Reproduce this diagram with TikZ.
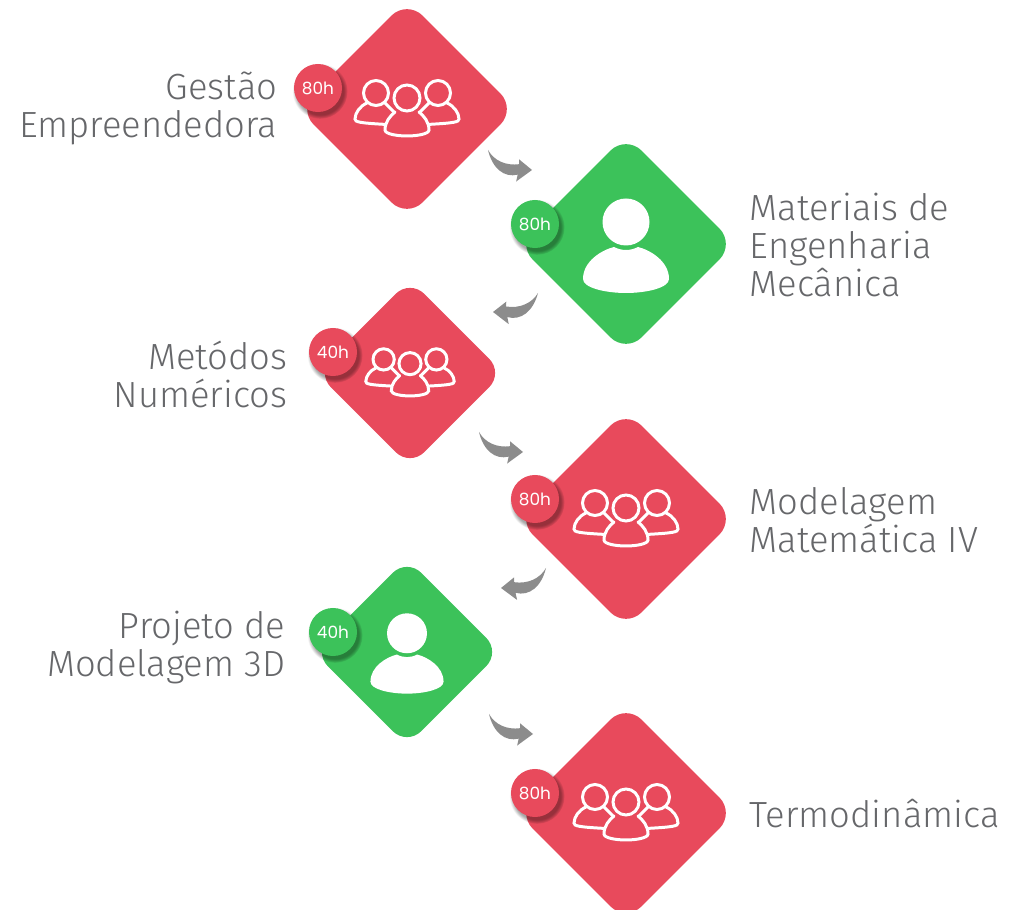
\documentclass[tikz,border=0pt]{standalone}
\usepackage{fontspec}
\setmainfont{Fira Sans Light}
\newfontfamily\hoursfont{Poppins}
\usetikzlibrary{calc,shadows}
\definecolor{stepred}{HTML}{E84A5C}
\definecolor{stepgreen}{HTML}{3CC25A}
\definecolor{labelgray}{HTML}{66676A}
\definecolor{flowgray}{HTML}{8C8C8C}
\tikzset{
    bigbox/.style={shape=rectangle,rotate=45,rounded corners=0.22cm,minimum size=1.54cm,inner sep=0pt},
    smallbox/.style={shape=rectangle,rotate=45,rounded corners=0.2cm,minimum size=1.32cm,inner sep=0pt},
    hours/.style={circle,minimum size=0.48cm,inner sep=0pt,text=white,font=\hoursfont\fontsize{4.8}{5}\selectfont,
        circular drop shadow={shadow xshift=0.5pt,shadow yshift=-0.8pt,shadow scale=1.15,opacity=0.35,fill=black}},
    lefttext/.style={anchor=east,align=right,inner sep=0pt,text=labelgray,font=\fontsize{10.35}{10.8}\selectfont},
    righttext/.style={anchor=west,align=left,inner sep=0pt,text=labelgray,font=\fontsize{10.35}{10.8}\selectfont},
    pics/personicon/.style={code={
        \fill[white] (0,-22) circle (23.5);
        \fill[white] (-43,35) .. controls (-43,17) and (-24,6) .. (-12,3)
            .. controls (-4,7) and (4,7) .. (12,3)
            .. controls (24,6) and (43,17) .. (43,35)
            .. controls (43,44) and (20,49) .. (0,49)
            .. controls (-20,49) and (-43,44) .. (-43,35) -- cycle;
    }},
    pics/groupicon/.style={code={
        % side persons first, the middle one covers them
        \foreach \s in {-1,1} {
            \draw[iconline] (\s*31,-16) circle (12.5);
            \draw[iconline] (\s*40,-6) .. controls (\s*47,-3) and (\s*52,4) .. (\s*52,10)
                .. controls (\s*52,13) and (\s*48,14) .. (\s*20,15.5);
            \draw[iconline] (\s*22,-6) -- (\s*13,3);
        }
        \draw[iconline,fill=#1] (12,3) .. controls (17,7) and (22,13) .. (22,21)
            .. controls (22,25) and (10,27) .. (0,27)
            .. controls (-10,27) and (-22,25) .. (-22,21)
            .. controls (-22,13) and (-17,7) .. (-12,3);
        \draw[iconline,fill=#1] (0,-11) circle (13);
    }},
    iconline/.style={white,line width=0.85pt,line cap=round}
}
% tapered arrow from tail #2 to tip #3, #1 is the side it bends to
\newcommand{\flowarrow}[3]{
    \fill[flowgray] let \p1=(#2),\p2=(#3),\p3=($(#3)-(#2)$) in
        (\p1) .. controls (\x1+0.2*\x3+#1*0.147*\y3,\y1+0.2*\y3-#1*0.147*\x3)
            and (\x1+0.47*\x3+#1*0.15*\y3,\y1+0.47*\y3-#1*0.15*\x3)
        .. (\x1+0.71*\x3,\y1+0.71*\y3)
        -- (\x1+0.667*\x3-#1*0.09*\y3,\y1+0.667*\y3+#1*0.09*\x3)
        -- (\p2)
        -- (\x1+0.8*\x3+#1*0.354*\y3,\y1+0.8*\y3-#1*0.354*\x3)
        -- (\x1+0.77*\x3+#1*0.21*\y3,\y1+0.77*\y3-#1*0.21*\x3)
        .. controls (\x1+0.545*\x3+#1*0.39*\y3,\y1+0.545*\y3-#1*0.39*\x3)
            and (\x1+0.24*\x3+#1*0.31*\y3,\y1+0.24*\y3-#1*0.31*\x3)
        .. (\p1) -- cycle;
}
\begin{document}
\begin{tikzpicture}[x=0.01cm,y=-0.01cm]
    \useasboundingbox (0,0) rectangle (1018,910);
    % Draw step boxes
    \node[bigbox,fill=stepred] (gestao) at (407,109) {};
    \node[bigbox,fill=stepgreen] (materiais) at (626,244) {};
    \node[smallbox,fill=stepred] (metodos) at (410,373) {};
    \node[bigbox,fill=stepred] (modelagem) at (626,519) {};
    \node[smallbox,fill=stepgreen] (projeto) at (407,652) {};
    \node[bigbox,fill=stepred] (termo) at (626,813) {};
    % Draw icons
    \pic at (gestao) {groupicon=stepred};
    \pic at (materiais) {personicon};
    \pic[scale=0.85] at (metodos) {groupicon=stepred};
    \pic at (modelagem) {groupicon=stepred};
    \pic[scale=0.85] at (projeto) {personicon};
    \pic at (termo) {groupicon=stepred};
    % Draw hour badges
    \node[hours,fill=stepred] (gestaoh) at (318,88) {80h};
    \node[hours,fill=stepgreen] (materiaish) at (535,224) {80h};
    \node[hours,fill=stepred] (metodosh) at (333,352) {40h};
    \node[hours,fill=stepred] (modelagemh) at (535,499) {80h};
    \node[hours,fill=stepgreen] (projetoh) at (333,632) {40h};
    \node[hours,fill=stepred] (termoh) at (535,793) {80h};
    % Draw labels
    \node[lefttext] (gestaotext) at (278,108) {Gestão\\Empreendedora};
    \node[righttext] (materiaistext) at (749,245) {Materiais de\\Engenharia\\Mecânica};
    \node[lefttext] (metodostext) at (288,374) {Metódos\\Numéricos};
    \node[righttext] (modelagemtext) at (749,520) {Modelagem\\Matemática IV};
    \node[lefttext] (projetotext) at (286,648) {Projeto de\\Modelagem 3D};
    \node[righttext] (termotext) at (749,814) {Termodinâmica};
    % Draw arrows
    \coordinate (tail1) at (488,150);
    \coordinate (tip1) at (532,170);
    \coordinate (tail2) at (538,293);
    \coordinate (tip2) at (493,312);
    \coordinate (tail3) at (479,432);
    \coordinate (tip3) at (523,452);
    \coordinate (tail4) at (546,568);
    \coordinate (tip4) at (501,588);
    \coordinate (tail5) at (489,714);
    \coordinate (tip5) at (533,734);
    \flowarrow{1}{tail1}{tip1}
    \flowarrow{-1}{tail2}{tip2}
    \flowarrow{1}{tail3}{tip3}
    \flowarrow{-1}{tail4}{tip4}
    \flowarrow{1}{tail5}{tip5}
\end{tikzpicture}
\end{document}
